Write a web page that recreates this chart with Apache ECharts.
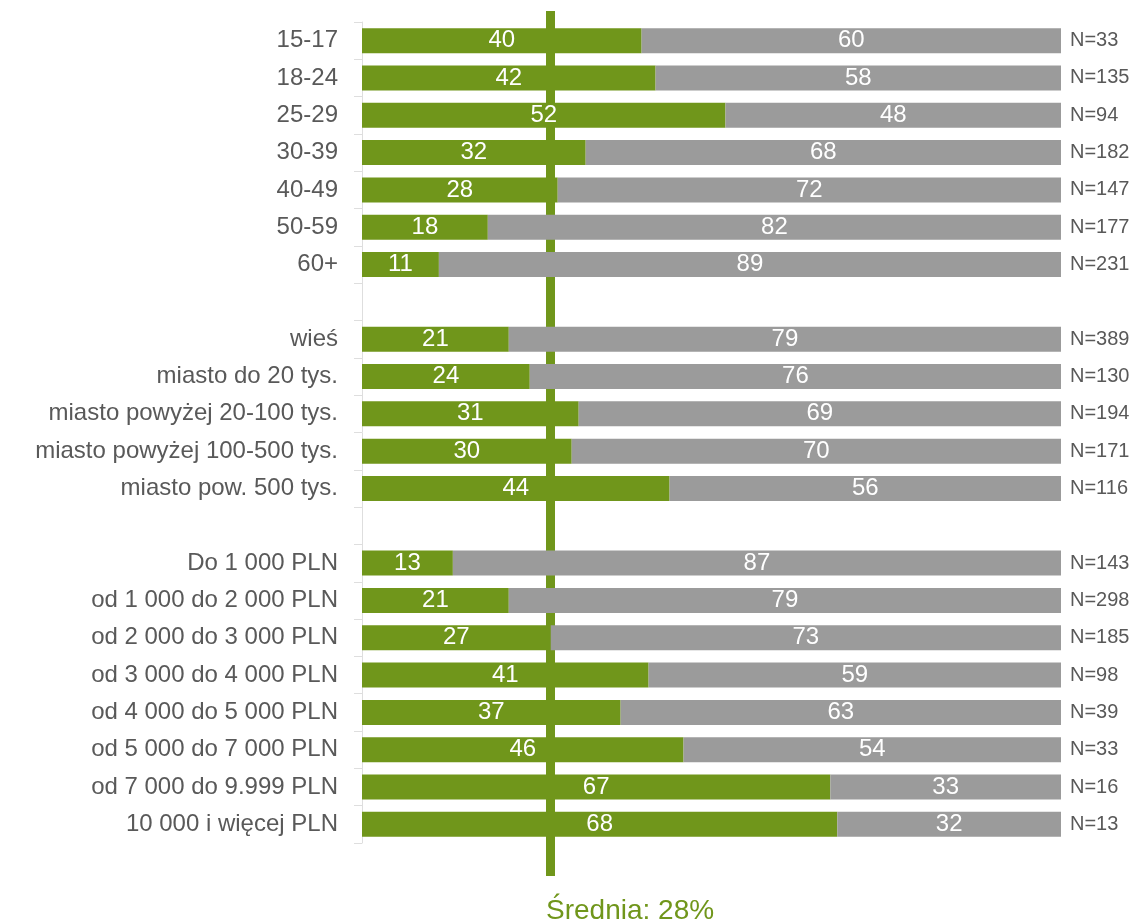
<!DOCTYPE html>
<html>
<head>
<meta charset="utf-8">
<script src="https://cdn.jsdelivr.net/npm/echarts@6/dist/echarts.min.js"></script>
<style>
  html, body { margin: 0; padding: 0; background: #fff; }
  #chart { width: 1137px; height: 921px; }
</style>
</head>
<body>
<div id="chart"></div>
<script>
// kategorie (puste wiersze = odstępy między grupami)
const categories = [
    '15-17', '18-24', '25-29', '30-39', '40-49', '50-59', '60+',
    ' ',
    'wieś', 'miasto do 20 tys.', 'miasto powyżej 20-100 tys.', 'miasto powyżej 100-500 tys.', 'miasto pow. 500 tys.',
    '  ',
    'Do 1 000 PLN', 'od 1 000 do 2 000 PLN', 'od 2 000 do 3 000 PLN', 'od 3 000 do 4 000 PLN',
    'od 4 000 do 5 000 PLN', 'od 5 000 do 7 000 PLN', 'od 7 000 do 9.999 PLN', '10 000 i więcej PLN'
]
const yesValues = [40, 42, 52, 32, 28, 18, 11, '-', 21, 24, 31, 30, 44, '-', 13, 21, 27, 41, 37, 46, 67, 68]
const noValues = [60, 58, 48, 68, 72, 82, 89, '-', 79, 76, 69, 70, 56, '-', 87, 79, 73, 59, 63, 54, 33, 32]
const nLabels = [
    'N=33', 'N=135', 'N=94', 'N=182', 'N=147', 'N=177', 'N=231',
    '',
    'N=389', 'N=130', 'N=194', 'N=171', 'N=116',
    '',
    'N=143', 'N=298', 'N=185', 'N=98', 'N=39', 'N=33', 'N=16', 'N=13'
]
const avgPosition = 27
const avgText = 'Średnia: 28%'

const GREEN = '#70961b'
const GRAY = '#9b9b9b'
const FONT = '"Liberation Sans", Arial, sans-serif'

const chart = echarts.init(document.getElementById('chart'))
const option = {
    animation: false,
    title: {
        text: avgText,
        left: 541,
        top: 892,
        textStyle: { color: GREEN, fontSize: 28, fontWeight: 'normal', fontFamily: FONT }
    },
    grid: [
        { left: 362, right: 76, top: 22, bottom: 78 },
        { left: 362, right: 76, top: 11, bottom: 45 }
    ],
    xAxis: [
        { type: 'value', min: 0, max: 100, show: false, gridIndex: 0 },
        { type: 'value', min: 0, max: 100, show: false, gridIndex: 1 }
    ],
    yAxis: [
        {
            type: 'category',
            gridIndex: 0,
            data: categories,
            inverse: true,
            axisLine: { show: true, lineStyle: { color: '#dedede', width: 1 } },
            axisTick: { show: true, length: 8, lineStyle: { color: '#dedede' } },
            axisLabel: { color: '#595959', fontSize: 24, fontFamily: FONT, margin: 24 }
        },
        {
            type: 'category',
            gridIndex: 0,
            position: 'right',
            data: nLabels,
            inverse: true,
            axisLine: { show: false },
            axisTick: { show: false },
            axisLabel: { color: '#595959', fontSize: 20, fontFamily: FONT, margin: 9, align: 'left' }
        },
        { type: 'value', min: 0, max: 1, show: false, gridIndex: 1 }
    ],
    series: [
        {
            name: 'tak',
            type: 'bar',
            stack: 'total',
            z: 10,
            barWidth: 25,
            data: yesValues,
            itemStyle: { color: GREEN },
            label: { show: true, position: 'inside', color: '#fff', fontSize: 24, fontFamily: FONT }
        },
        {
            name: 'nie',
            type: 'bar',
            stack: 'total',
            z: 10,
            barWidth: 25,
            data: noValues,
            itemStyle: { color: GRAY },
            label: { show: true, position: 'inside', color: '#fff', fontSize: 24, fontFamily: FONT }
        },
        {
            name: 'srednia',
            type: 'line',
            xAxisIndex: 1,
            yAxisIndex: 2,
            z: 1,
            data: [],
            markLine: {
                silent: true,
                symbol: 'none',
                label: { show: false },
                lineStyle: { color: GREEN, width: 9, type: 'solid' },
                data: [{ xAxis: avgPosition }]
            }
        }
    ]
}
chart.setOption(option)

window.addEventListener('resize', () => {
    chart.resize()
})
</script>
</body>
</html>
